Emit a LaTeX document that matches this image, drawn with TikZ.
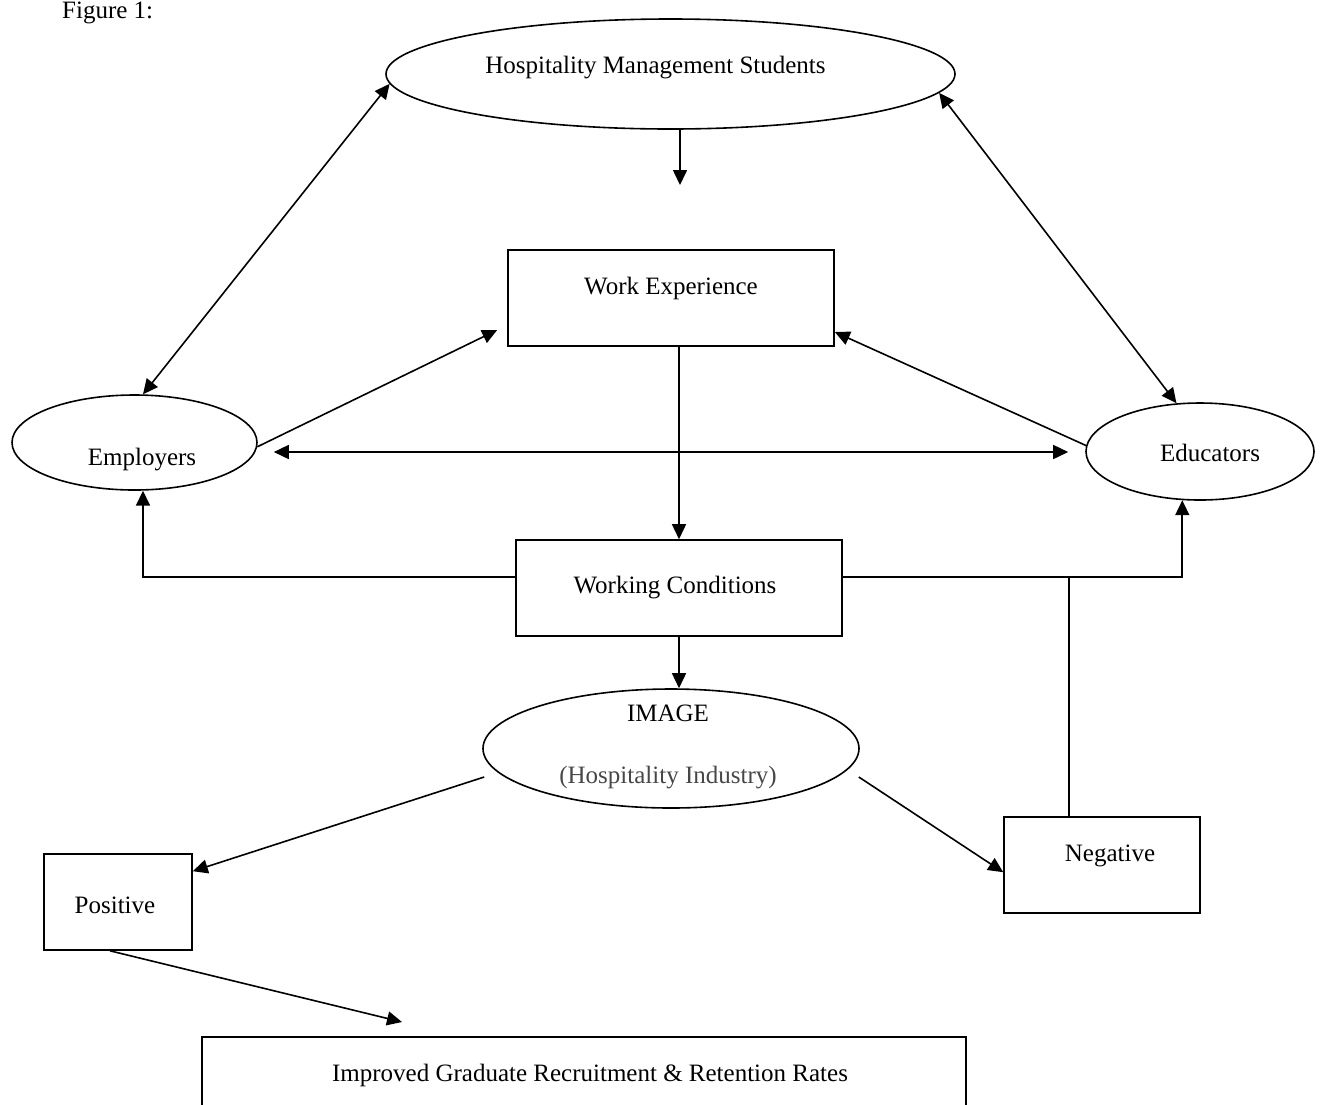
\documentclass[tikz,border=0pt]{standalone}
\usepackage{fontspec}
\setmainfont{Liberation Serif}
\usetikzlibrary{shapes.geometric,arrows.meta,calc}
\begin{document}
\begin{tikzpicture}[x=1pt,y=-1pt,
  >={Triangle[length=15pt,width=14pt]},
  ell/.style={draw, ellipse, line width=1.6pt, inner sep=0pt},
  box/.style={draw, rectangle, line width=1.6pt, inner sep=0pt},
  lbl/.style={anchor=base, font=\fontsize{25}{30}\selectfont, inner sep=0pt},
  conn/.style={line width=1.6pt}]
\useasboundingbox (0,0) rectangle (1322,1104);
\clip (0,0) rectangle (1322,1104);

% shapes
\node[ell, minimum width=569pt, minimum height=110pt] (stu) at (670.5,74) {};
\node[ell, minimum width=245pt, minimum height=95pt] (emp) at (134.5,442.5) {};
\node[ell, minimum width=228pt, minimum height=97pt] (edu) at (1200,451.5) {};
\node[ell, minimum width=376pt, minimum height=119pt] (img) at (671,748.5) {};
\node[box, minimum width=326pt, minimum height=96pt] (we) at (671,298) {};
\node[box, minimum width=326pt, minimum height=96pt] (wc) at (679,588) {};
\node[box, minimum width=148pt, minimum height=96pt] (pos) at (118,902) {};
\node[box, minimum width=196pt, minimum height=96pt] (neg) at (1102,865) {};
\node[box, minimum width=764pt, minimum height=71pt] (imp) at (584,1072.5) {};

% texts
\node[lbl, anchor=base west] (fig) at (62,18) {Figure 1:};
\node[lbl] (stuT) at (655.5,73) {Hospitality Management Students};
\node[lbl] (empT) at (142,465) {Employers};
\node[lbl] (eduT) at (1210,461) {Educators};
\node[lbl] (weT) at (671,294) {Work Experience};
\node[lbl] (wcT) at (675,593) {Working Conditions};
\node[lbl] (imgT) at (668,721) {IMAGE};
\node[lbl, text=black!72] (imgT2) at (668,783) {(Hospitality Industry)};
\node[lbl] (posT) at (115,913) {Positive};
\node[lbl] (negT) at (1110,861) {Negative};
\node[lbl] (impT) at (590,1081) {Improved Graduate Recruitment \& Retention Rates};

% free ends
\coordinate (t1) at (680,185);
\coordinate (t2) at (402,1022);
\coordinate (jn) at (1069,577);

% connectors
\draw[conn,<->] (emp.80) -- (stu.182);
\draw[conn,<->] (edu.116) -- (stu.-4);
\draw[conn,->] ([xshift=9.5pt]stu.south) -- (t1);
\draw[conn,->] (emp.-2) -- ([shift={(-10pt,-32pt)}]we.west);
\draw[conn,->] (edu.177.5) -- ([yshift=-34pt]we.east);
\draw[conn,<->] ($(emp.east)+(16,9.5)$) -- ($(edu.west)+(-17,0.5)$);
\draw[conn,->] (we.south -| wc.north) -- (wc.north);
\draw[conn,->] ([yshift=11pt]wc.west) -| (emp.280);
\draw[conn,->] ([yshift=11pt]wc.east) -| (edu.250.5);
\draw[conn] (neg.north -| jn) -- (jn);
\draw[conn,->] (wc.south) -- (wc.south |- img.north);
\draw[conn,->] ([shift={(2pt,-28.5pt)}]img.west) -- ([yshift=-18pt]pos.north east);
\draw[conn,->] ([shift={(-1pt,-28.5pt)}]img.east) -- ([yshift=-56pt]neg.north west);
\draw[conn,->] ([xshift=-8pt]pos.south) -- (t2);
\end{tikzpicture}
\end{document}
